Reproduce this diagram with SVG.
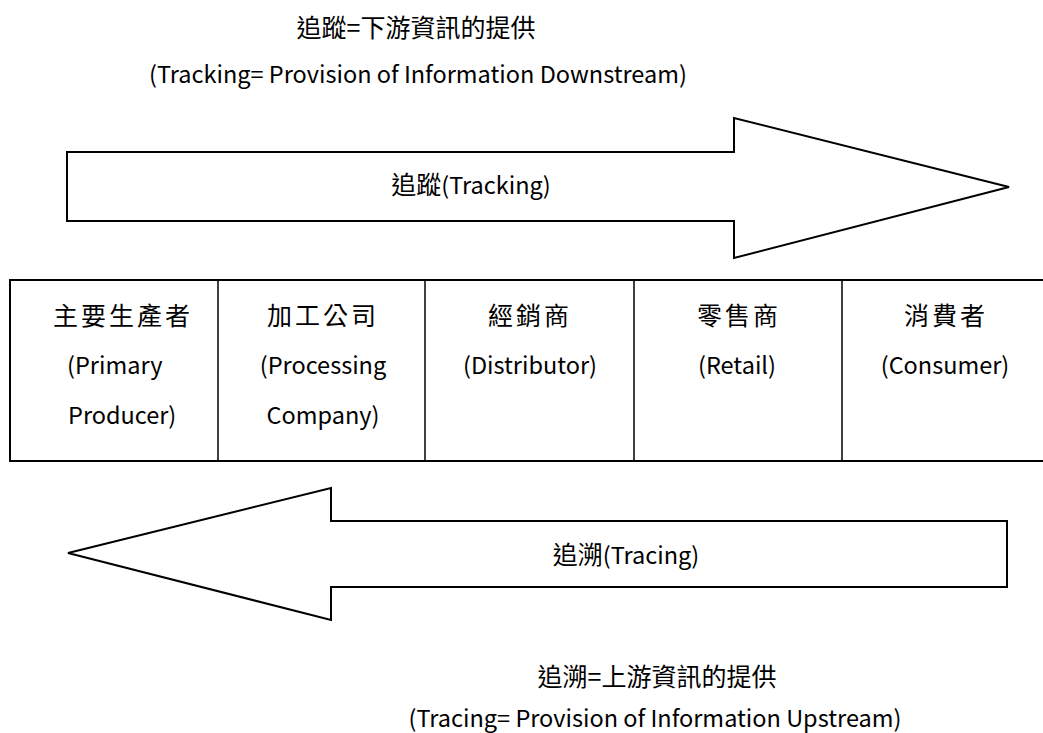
<svg xmlns="http://www.w3.org/2000/svg" width="1043" height="733" viewBox="0 0 1043 733">
  <style>
    text { font-family: "Noto Sans CJK TC", "Noto Sans", sans-serif; font-size: 23.5px; fill: #000; text-anchor: middle; }
    .cjk { font-size: 25px; }
    .cell { font-size: 25px; letter-spacing: 3px; }
    .arrow { fill: #fff; stroke: #000; stroke-width: 2; stroke-linejoin: miter; }
    .frame { fill: none; stroke: #000; stroke-width: 2; }
    .div { stroke: #000; stroke-width: 1.5; }
  </style>
  <rect width="1043" height="733" fill="#fff"/>

  <!-- heading: tracking definition -->
  <g id="title-tracking">
    <text class="cjk" x="416" y="37">追蹤=下游資訊的提供</text>
    <text x="418" y="83">(Tracking= Provision of Information Downstream)</text>
  </g>

  <g id="connectors">
    <!-- downstream arrow -->
    <g id="arrow-tracking">
      <polygon class="arrow" points="67,152 734,152 734,118 1009,187 734,258 734,221 67,221"/>
      <text x="471" y="194"><tspan class="cjk">追蹤</tspan>(Tracking)</text>
    </g>
    <!-- upstream arrow -->
    <g id="arrow-tracing">
      <polygon class="arrow" points="68,553 331,488 331,521 1007,521 1007,587 331,587 331,620"/>
      <text x="626" y="564"><tspan class="cjk">追溯</tspan>(Tracing)</text>
    </g>
  </g>

  <!-- supply chain table -->
  <g id="chain-frame">
    <path class="frame" d="M1043,280 H10 V461 H1043"/>
    <line class="div" x1="218" y1="280" x2="218" y2="461"/>
    <line class="div" x1="425" y1="280" x2="425" y2="461"/>
    <line class="div" x1="634" y1="280" x2="634" y2="461"/>
    <line class="div" x1="842" y1="280" x2="842" y2="461"/>
  </g>
  <g id="node-producer">
    <text class="cell" x="123" y="325">主要生產者</text>
    <text x="67" y="374" style="text-anchor:start">(Primary</text>
    <text x="68" y="424" style="text-anchor:start">Producer)</text>
  </g>
  <g id="node-processing">
    <text class="cell" x="323" y="325">加工公司</text>
    <text x="323" y="374">(Processing</text>
    <text x="323" y="424">Company)</text>
  </g>
  <g id="node-distributor">
    <text class="cell" x="530" y="325">經銷商</text>
    <text x="530" y="374">(Distributor)</text>
  </g>
  <g id="node-retail">
    <text class="cell" x="739" y="325">零售商</text>
    <text x="737" y="374">(Retail)</text>
  </g>
  <g id="node-consumer">
    <text class="cell" x="946" y="325">消費者</text>
    <text x="945" y="374">(Consumer)</text>
  </g>

  <!-- footer: tracing definition -->
  <g id="title-tracing">
    <text class="cjk" x="657" y="686">追溯=上游資訊的提供</text>
    <text x="655" y="727">(Tracing= Provision of Information Upstream)</text>
  </g>
</svg>
